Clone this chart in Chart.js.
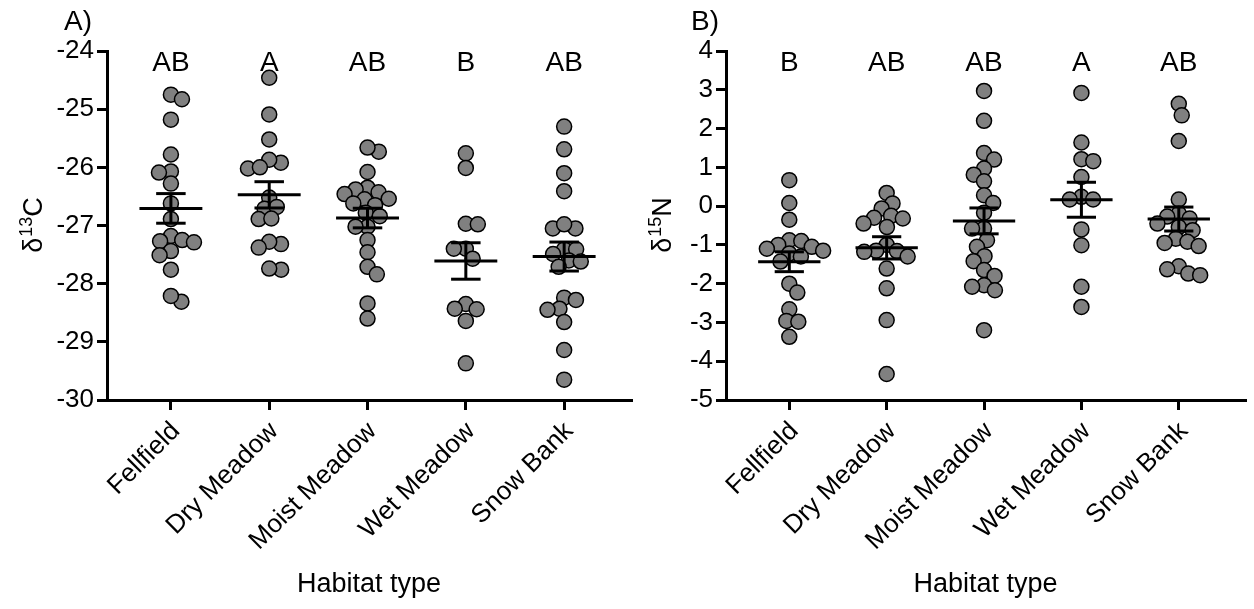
<!DOCTYPE html>
<html>
<head>
<meta charset="utf-8">
<script src="https://cdn.jsdelivr.net/npm/chart.js@4.4.1/dist/chart.umd.min.js"></script>
<style>
  body { margin: 0; background: #fff; }
  .panel { position: absolute; top: 0; height: 609px; }
  #panelA { left: 0; width: 640px; }
  #panelB { left: 640px; width: 614px; }
</style>
</head>
<body>
<div class="panel" id="panelA"><canvas id="chartA"></canvas></div>
<div class="panel" id="panelB"><canvas id="chartB"></canvas></div>
<script>
  // Data

  const categories = ['Fellfield', 'Dry Meadow', 'Moist Meadow', 'Wet Meadow', 'Snow Bank'];
  const carbonTicks = [-30, -29, -28, -27, -26, -25, -24];
  const nitrogenTicks = [-5, -4, -3, -2, -1, 0, 1, 2, 3, 4];
  const carbonLetters = ['AB', 'A', 'AB', 'B', 'AB'];
  const nitrogenLetters = ['B', 'AB', 'AB', 'A', 'AB'];

  const carbonFellfield = [-24.75, -24.83, -25.18, -25.78, -26.07, -26.09, -26.28, -26.62, -26.89, -27.18, -27.25, -27.29, -27.27, -27.44, -27.51, -27.76, -28.31, -28.21];
  const carbonDryMeadow = [-24.46, -25.09, -25.52, -25.92, -25.87, -26.02, -26.0, -26.52, -26.71, -26.68, -26.89, -26.88, -27.32, -27.28, -27.38, -27.76, -27.74];
  const carbonMoistMeadow = [-25.73, -25.66, -26.08, -26.35, -26.43, -26.38, -26.46, -26.54, -26.55, -26.62, -26.65, -26.78, -26.84, -27.02, -27.02, -27.25, -27.46, -27.71, -27.84, -28.34, -28.6];
  const carbonWetMeadow = [-25.76, -26.01, -26.97, -26.98, -27.4, -27.4, -27.57, -28.35, -28.44, -28.43, -28.64, -29.37];
  const carbonSnowBank = [-25.3, -25.69, -26.1, -26.41, -27.05, -27.05, -26.98, -27.41, -27.41, -27.49, -27.6, -27.62, -27.71, -28.24, -28.28, -28.43, -28.45, -28.66, -29.14, -29.65];

  const nitrogenFellfield = [0.67, 0.08, -0.35, -0.88, -0.9, -1.0, -1.05, -1.1, -1.15, -1.22, -1.3, -1.43, -2.0, -2.23, -2.66, -2.96, -2.98, -3.37];
  const nitrogenDryMeadow = [0.34, 0.07, -0.06, -0.25, -0.3, -0.32, -0.45, -0.54, -1.0, -1.15, -1.16, -1.18, -1.3, -1.61, -2.12, -2.94, -4.33];
  const nitrogenMoistMeadow = [2.97, 2.2, 1.37, 1.2, 0.97, 0.81, 0.64, 0.28, 0.08, -0.17, -0.58, -0.58, -0.88, -1.05, -1.29, -1.42, -1.65, -1.8, -2.04, -2.08, -2.17, -3.2];
  const nitrogenWetMeadow = [2.92, 1.64, 1.21, 1.16, 0.75, 0.24, 0.17, 0.17, -0.6, -1.01, -2.08, -2.6];
  const nitrogenSnowBank = [2.64, 2.34, 1.68, 0.17, -0.19, -0.27, -0.32, -0.45, -0.54, -0.62, -0.84, -0.92, -0.95, -1.03, -1.55, -1.63, -1.74, -1.78];

  const carbonGroups = [carbonFellfield, carbonDryMeadow, carbonMoistMeadow, carbonWetMeadow, carbonSnowBank];
  const nitrogenGroups = [nitrogenFellfield, nitrogenDryMeadow, nitrogenMoistMeadow, nitrogenWetMeadow, nitrogenSnowBank];

  const FONT = '"Liberation Sans", Arial, sans-serif';
  Chart.defaults.font.family = FONT;
  Chart.defaults.color = '#000';

  // mean + SEM bars, group letters, panel tag and the y title with superscript
  const dotStats = {
    id: 'dotStats',
    afterDatasetsDraw(chart, args, opts) {
      const { ctx, chartArea, scales: { x, y } } = chart;
      ctx.save();
      ctx.strokeStyle = '#000';
      ctx.lineWidth = 3;
      const line = (x0, y0, x1, y1) => {
        ctx.beginPath();
        ctx.moveTo(x.getPixelForValue(x0), y.getPixelForValue(y0));
        ctx.lineTo(x.getPixelForValue(x1), y.getPixelForValue(y1));
        ctx.stroke();
      };
      opts.groups.forEach((vals, i) => {
        const c = i + 1;
        const n = vals.length;
        const mean = vals.reduce((a, b) => a + b, 0) / n;
        const sd = Math.sqrt(vals.reduce((a, b) => a + (b - mean) ** 2, 0) / (n - 1));
        const sem = sd / Math.sqrt(n);
        line(c - 0.32, mean, c + 0.32, mean);
        line(c, mean - sem, c, mean + sem);
        line(c - 0.15, mean + sem, c + 0.15, mean + sem);
        line(c - 0.15, mean - sem, c + 0.15, mean - sem);
      });

      ctx.fillStyle = '#000';
      ctx.font = '28px ' + FONT;
      ctx.textAlign = 'center';
      ctx.textBaseline = 'middle';
      opts.letters.forEach((t, i) => ctx.fillText(t, x.getPixelForValue(i + 1), chartArea.top + 12));

      ctx.font = '28px ' + FONT;
      ctx.textAlign = 'left';
      ctx.fillText(opts.tag, opts.tagX, 22);

      // rotated axis title: δ + superscript + element
      ctx.translate(opts.titleX, (chartArea.top + chartArea.bottom) / 2);
      ctx.rotate(-Math.PI / 2);
      ctx.textBaseline = 'alphabetic';
      const big = '27px ' + FONT;
      const small = '18px ' + FONT;
      ctx.font = big;
      const w1 = ctx.measureText('δ').width;
      const w3 = ctx.measureText(opts.element).width;
      ctx.font = small;
      const w2 = ctx.measureText(opts.isotope).width;
      const sx = -(w1 + w2 + w3) / 2;
      ctx.font = big;
      ctx.fillText('δ', sx, 0);
      ctx.font = small;
      ctx.fillText(opts.isotope, sx + w1 + 1, -10);
      ctx.font = big;
      ctx.fillText(opts.element, sx + w1 + w2 + 1, 0);
      ctx.restore();
    },
  };

  // simple beeswarm in pixel space, keeps points from piling up
  function swarm(values, chart, center, diameter) {
    const xs = chart.scales.x;
    const ys = chart.scales.y;
    const unit = xs.getPixelForValue(1) - xs.getPixelForValue(0);
    const order = values.map((v, i) => i).sort((a, b) => values[b] - values[a]);
    const placed = [];
    const out = new Array(values.length);
    let side = 1;
    order.forEach((idx) => {
      const py = ys.getPixelForValue(values[idx]);
      const near = placed.filter((p) => Math.abs(p.y - py) < diameter);
      const cands = [0];
      near.forEach((p) => {
        const dx = Math.sqrt(diameter * diameter - (p.y - py) ** 2);
        cands.push(p.x + dx, p.x - dx);
      });
      const ok = cands.filter((c) => near.every((p) => Math.hypot(p.x - c, p.y - py) >= diameter - 0.01));
      ok.sort((a, b) => {
        const d = Math.abs(a) - Math.abs(b);
        if (Math.abs(d) > 0.5) return d;
        return side * (b - a);
      });
      const px = ok[0];
      if (px !== 0) side = px > 0 ? -1 : 1;
      placed.push({ x: px, y: py });
      out[idx] = center + px / unit;
    });
    return out;
  }

  function makeChart(id, groups, ticks, letters, opts) {
    const chart = new Chart(document.getElementById(id), {
      type: 'scatter',
      data: {
        datasets: groups.map((vals, i) => ({
          data: vals.map((v) => ({ x: i + 1, y: v })),
          pointRadius: 7.5,
          pointHoverRadius: 7.5,
          backgroundColor: '#808080',
          borderColor: '#000',
          borderWidth: 1.5,
        })),
      },
      options: {
        animation: false,
        responsive: true,
        maintainAspectRatio: false,
        layout: { padding: { top: 51, right: opts.right, left: 0, bottom: 0 } },
        plugins: {
          legend: { display: false },
          tooltip: { enabled: false },
          dotStats: {
            groups: groups,
            letters: letters,
            tag: opts.tag,
            tagX: opts.tagX,
            titleX: opts.titleX,
            isotope: opts.isotope,
            element: opts.element,
          },
        },
        scales: {
          x: {
            type: 'linear',
            min: 0.35,
            max: 5.68,
            afterBuildTicks: (s) => {
              s.ticks = categories.map((c, i) => ({ value: i + 1 }));
            },
            afterFit: (s) => {
              s.height = 209;
            },
            ticks: {
              autoSkip: false,
              minRotation: 45,
              maxRotation: 45,
              padding: 6,
              labelOffset: 5,
              font: { size: 26 },
              callback: (v) => categories[Math.round(v) - 1],
            },
            grid: { drawOnChartArea: false, tickLength: 10, lineWidth: 3, color: '#000' },
            border: { display: true, width: 3, color: '#000' },
            title: { display: true, text: 'Habitat type', font: { size: 27 }, padding: { top: 0, bottom: 8 } },
          },
          y: {
            type: 'linear',
            min: ticks[0],
            max: ticks[ticks.length - 1],
            afterBuildTicks: (s) => {
              s.ticks = ticks.map((t) => ({ value: t }));
            },
            afterFit: (s) => {
              s.width = opts.axisWidth;
            },
            ticks: { padding: 3, font: { size: 26 }, callback: (v) => String(v) },
            grid: { drawOnChartArea: false, tickLength: 10, lineWidth: 3, color: '#000' },
            border: { display: true, width: 3, color: '#000' },
          },
        },
      },
      plugins: [dotStats],
    });

    groups.forEach((vals, i) => {
      const xs = swarm(vals, chart, i + 1, 12);
      chart.data.datasets[i].data = vals.map((v, j) => ({ x: xs[j], y: v }));
    });
    chart.update('none');
    return chart;
  }

  makeChart('chartA', carbonGroups, carbonTicks, carbonLetters, {
    right: 5, axisWidth: 107, tag: 'A)', tagX: 64, titleX: 42, isotope: '13', element: 'C',
  });
  makeChart('chartB', nitrogenGroups, nitrogenTicks, nitrogenLetters, {
    right: 5, axisWidth: 86, tag: 'B)', tagX: 51, titleX: 31, isotope: '15', element: 'N',
  });
</script>
</body>
</html>
